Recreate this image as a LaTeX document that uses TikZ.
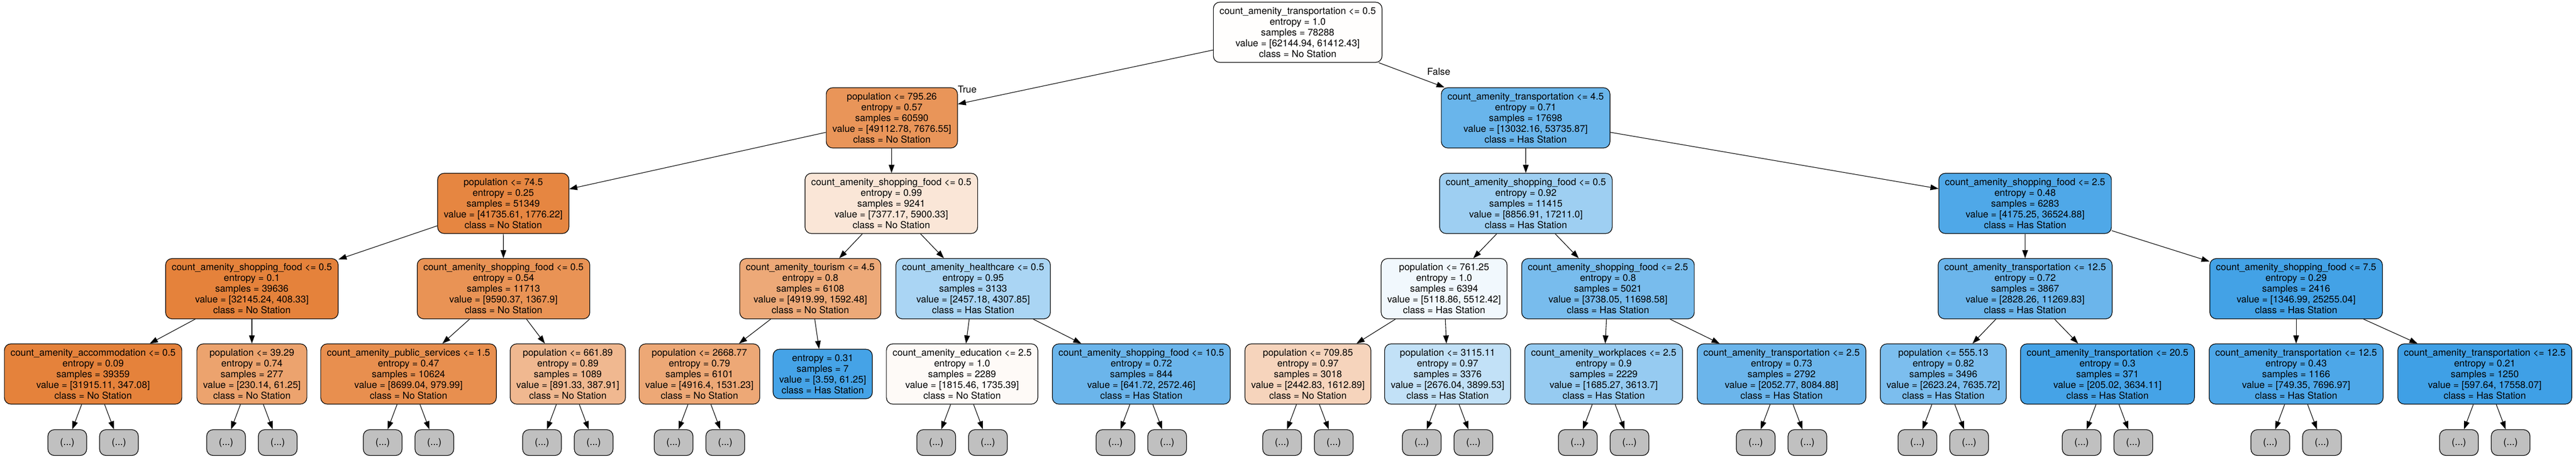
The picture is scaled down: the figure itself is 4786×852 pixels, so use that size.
\documentclass[tikz,border=0pt]{standalone}
\usepackage{fontspec}
\setmainfont{TeX Gyre Heros}
\usetikzlibrary{arrows.meta}
\definecolor{nostation}{HTML}{E58139}
\definecolor{hasstation}{HTML}{399DE5}
\definecolor{cutgray}{HTML}{C0C0C0}
\newcommand\treefont{\fontsize{17.8}{20}\selectfont}

\begin{document}
\begin{tikzpicture}[x=1pt,y=-1pt]
    \tikzstyle{split}=[draw=black, line width=1.2pt, rounded corners=12pt, align=center, inner xsep=11.5pt, inner ysep=4pt, minimum height=112pt, font=\treefont]
    \tikzstyle{cut}=[draw=black, line width=1.2pt, rounded corners=12pt, fill=cutgray, minimum width=72pt, minimum height=48pt, font=\treefont]
    \tikzstyle{edge}=[line width=1.1pt, -{Triangle[length=15pt,width=10.5pt]}]
    \tikzstyle{lbl}=[font=\treefont, inner sep=0pt]
    \fill [white] (0,0) rectangle (4786,852);
    \useasboundingbox (0,0) rectangle (4786,852);
    \node [split, fill=nostation!1!white] (n0) at (2411,60) {count\_amenity\_transportation <= 0.5\\entropy = 1.0\\samples = 78288\\value = [62144.94, 61412.43]\\class = No Station};
    \node [split, fill=nostation!84!white] (n1) at (1657,219) {population <= 795.26\\entropy = 0.57\\samples = 60590\\value = [49112.78, 7676.55]\\class = No Station};
    \node [split, fill=hasstation!76!white] (n2) at (2834.5,219) {count\_amenity\_transportation <= 4.5\\entropy = 0.71\\samples = 17698\\value = [13032.16, 53735.87]\\class = Has Station};
    \node [split, fill=nostation!96!white] (n3) at (935,378) {population <= 74.5\\entropy = 0.25\\samples = 51349\\value = [41735.61, 1776.22]\\class = No Station};
    \node [split, fill=nostation!20!white] (n4) at (1656,378) {count\_amenity\_shopping\_food <= 0.5\\entropy = 0.99\\samples = 9241\\value = [7377.17, 5900.33]\\class = No Station};
    \node [split, fill=hasstation!49!white] (n5) at (2835,378) {count\_amenity\_shopping\_food <= 0.5\\entropy = 0.92\\samples = 11415\\value = [8856.91, 17211.0]\\class = Has Station};
    \node [split, fill=hasstation!89!white] (n6) at (3762.5,378) {count\_amenity\_shopping\_food <= 2.5\\entropy = 0.48\\samples = 6283\\value = [4175.25, 36524.88]\\class = Has Station};
    \node [split, fill=nostation!99!white] (n7) at (468,536.5) {count\_amenity\_shopping\_food <= 0.5\\entropy = 0.1\\samples = 39636\\value = [32145.24, 408.33]\\class = No Station};
    \node [split, fill=nostation!86!white] (n8) at (935.5,536.5) {count\_amenity\_shopping\_food <= 0.5\\entropy = 0.54\\samples = 11713\\value = [9590.37, 1367.9]\\class = No Station};
    \node [split, fill=nostation!68!white] (n9) at (1505.5,536.5) {count\_amenity\_tourism <= 4.5\\entropy = 0.8\\samples = 6108\\value = [4919.99, 1592.48]\\class = No Station};
    \node [split, fill=hasstation!43!white] (n10) at (1808,536.5) {count\_amenity\_healthcare <= 0.5\\entropy = 0.95\\samples = 3133\\value = [2457.18, 4307.85]\\class = Has Station};
    \node [split, fill=hasstation!7!white] (n11) at (2683,536.5) {population <= 761.25\\entropy = 1.0\\samples = 6394\\value = [5118.86, 5512.42]\\class = Has Station};
    \node [split, fill=hasstation!68!white] (n12) at (2987.5,536.5) {count\_amenity\_shopping\_food <= 2.5\\entropy = 0.8\\samples = 5021\\value = [3738.05, 11698.58]\\class = Has Station};
    \node [split, fill=hasstation!75!white] (n13) at (3762.5,536.5) {count\_amenity\_transportation <= 12.5\\entropy = 0.72\\samples = 3867\\value = [2828.26, 11269.83]\\class = Has Station};
    \node [split, fill=hasstation!95!white] (n14) at (4266,536.5) {count\_amenity\_shopping\_food <= 7.5\\entropy = 0.29\\samples = 2416\\value = [1346.99, 25255.04]\\class = Has Station};
    \node [split, fill=nostation!99!white] (n15) at (173,695) {count\_amenity\_accommodation <= 0.5\\entropy = 0.09\\samples = 39359\\value = [31915.11, 347.08]\\class = No Station};
    \node [split, fill=nostation!73!white] (n16) at (468,695) {population <= 39.29\\entropy = 0.74\\samples = 277\\value = [230.14, 61.25]\\class = No Station};
    \node [split, fill=nostation!89!white] (n17) at (759,695) {count\_amenity\_public\_services <= 1.5\\entropy = 0.47\\samples = 10624\\value = [8699.04, 979.99]\\class = No Station};
    \node [split, fill=nostation!56!white] (n18) at (1055,695) {population <= 661.89\\entropy = 0.89\\samples = 1089\\value = [891.33, 387.91]\\class = No Station};
    \node [split, fill=nostation!69!white] (n19) at (1299.5,695) {population <= 2668.77\\entropy = 0.79\\samples = 6101\\value = [4916.4, 1531.23]\\class = No Station};
    \node [split, fill=hasstation!94!white, minimum height=92pt] (n20) at (1528.5,695) {entropy = 0.31\\samples = 7\\value = [3.59, 61.25]\\class = Has Station};
    \node [split, fill=nostation!4!white] (n21) at (1787.5,695) {count\_amenity\_education <= 2.5\\entropy = 1.0\\samples = 2289\\value = [1815.46, 1735.39]\\class = No Station};
    \node [split, fill=hasstation!75!white] (n22) at (2120.5,695) {count\_amenity\_shopping\_food <= 10.5\\entropy = 0.72\\samples = 844\\value = [641.72, 2572.46]\\class = Has Station};
    \node [split, fill=nostation!34!white] (n23) at (2430,695) {population <= 709.85\\entropy = 0.97\\samples = 3018\\value = [2442.83, 1612.89]\\class = No Station};
    \node [split, fill=hasstation!31!white] (n24) at (2689.5,695) {population <= 3115.11\\entropy = 0.97\\samples = 3376\\value = [2676.04, 3899.53]\\class = Has Station};
    \node [split, fill=hasstation!53!white] (n25) at (2979.5,695) {count\_amenity\_workplaces <= 2.5\\entropy = 0.9\\samples = 2229\\value = [1685.27, 3613.7]\\class = Has Station};
    \node [split, fill=hasstation!75!white] (n26) at (3310,695) {count\_amenity\_transportation <= 2.5\\entropy = 0.73\\samples = 2792\\value = [2052.77, 8084.88]\\class = Has Station};
    \node [split, fill=hasstation!66!white] (n27) at (3610.5,695) {population <= 555.13\\entropy = 0.82\\samples = 3496\\value = [2623.24, 7635.72]\\class = Has Station};
    \node [split, fill=hasstation!94!white] (n28) at (3915.5,695) {count\_amenity\_transportation <= 20.5\\entropy = 0.3\\samples = 371\\value = [205.02, 3634.11]\\class = Has Station};
    \node [split, fill=hasstation!90!white] (n29) at (4266,695) {count\_amenity\_transportation <= 12.5\\entropy = 0.43\\samples = 1166\\value = [749.35, 7696.97]\\class = Has Station};
    \node [split, fill=hasstation!97!white] (n30) at (4616.5,695) {count\_amenity\_transportation <= 12.5\\entropy = 0.21\\samples = 1250\\value = [597.64, 17558.07]\\class = Has Station};
    \draw [edge] (n0) -- (n1);
    \draw [edge] (n0) -- (n2);
    \node [lbl] (ltrue) at (1797,166) {True};
    \node [lbl] (lfalse) at (2673,133) {False};
    \draw [edge] (n1) -- (n3);
    \draw [edge] (n1) -- (n4);
    \draw [edge] (n2) -- (n5);
    \draw [edge] (n2) -- (n6);
    \draw [edge] (n3) -- (n7);
    \draw [edge] (n3) -- (n8);
    \draw [edge] (n4) -- (n9);
    \draw [edge] (n4) -- (n10);
    \draw [edge] (n5) -- (n11);
    \draw [edge] (n5) -- (n12);
    \draw [edge] (n6) -- (n13);
    \draw [edge] (n6) -- (n14);
    \draw [edge] (n7) -- (n15);
    \draw [edge] (n7) -- (n16);
    \draw [edge] (n8) -- (n17);
    \draw [edge] (n8) -- (n18);
    \draw [edge] (n9) -- (n19);
    \draw [edge] (n9) -- (n20);
    \draw [edge] (n10) -- (n21);
    \draw [edge] (n10) -- (n22);
    \draw [edge] (n11) -- (n23);
    \draw [edge] (n11) -- (n24);
    \draw [edge] (n12) -- (n25);
    \draw [edge] (n12) -- (n26);
    \draw [edge] (n13) -- (n27);
    \draw [edge] (n13) -- (n28);
    \draw [edge] (n14) -- (n29);
    \draw [edge] (n14) -- (n30);
    \foreach \p in {n15,n16,n17,n18,n19,n21,n22,n23,n24,n25,n26,n27,n28,n29,n30} {
        \node [cut] (\p-l) at ([shift={(-48,127.5)}]\p.center) {(...)};
        \node [cut] (\p-r) at ([shift={(48,127.5)}]\p.center) {(...)};
        \draw [edge] (\p) -- (\p-l);
        \draw [edge] (\p) -- (\p-r);
    }
\end{tikzpicture}
\end{document}
